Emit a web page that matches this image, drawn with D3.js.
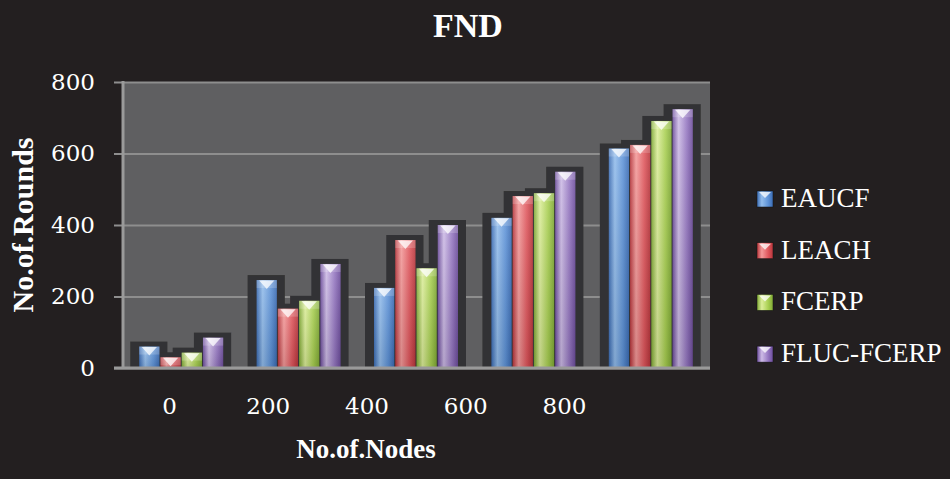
<!DOCTYPE html>
<html>
<head>
<meta charset="utf-8">
<script src="https://cdn.jsdelivr.net/npm/d3@7"></script>
<style>
  html, body { margin: 0; padding: 0; background: #231f20; }
  svg { display: block; }
</style>
</head>
<body>
<div id="chart"></div>
<script>
// data
var nodes = ["0", "200", "400", "600", "800"];
var series = ["EAUCF", "LEACH", "FCERP", "FLUC-FCERP"];
var eaucf = [60, 246, 224, 420, 614];
var leach = [30, 166, 358, 481, 624];
var fcerp = [43, 188, 279, 489, 691];
var flucFcerp = [85, 291, 400, 549, 724];
var yTicks = [0, 200, 400, 600, 800];

var values = [eaucf, leach, fcerp, flucFcerp];
// dark, light, mid colours for each series
var colors = [
    ["#3a6bb3", "#93bdec", "#5e93d8"],
    ["#b8353b", "#f49a9a", "#e0575d"],
    ["#7fa934", "#dcee9a", "#a9d052"],
    ["#6c4c9c", "#cdbbe6", "#9678c2"]
];

var W = 950, H = 479;
var pLeft = 123, pRight = 710, pTop = 82, pBottom = 368;

var svg = d3.select("#chart").append("svg")
    .attr("width", W)
    .attr("height", H);

svg.append("rect").attr("width", W).attr("height", H).attr("fill", "#231f20");

var defs = svg.append("defs");
colors.forEach(function (c, i) {
    var g = defs.append("linearGradient").attr("id", "grad" + i)
        .attr("x1", 0).attr("y1", 0).attr("x2", 1).attr("y2", 0);
    g.append("stop").attr("offset", "0%").attr("stop-color", c[0]);
    g.append("stop").attr("offset", "30%").attr("stop-color", c[1]);
    g.append("stop").attr("offset", "70%").attr("stop-color", c[2]);
    g.append("stop").attr("offset", "100%").attr("stop-color", c[0]);
});
var shade = defs.append("linearGradient").attr("id", "shade")
    .attr("x1", 0).attr("y1", 0).attr("x2", 0).attr("y2", 1);
shade.append("stop").attr("offset", "0%").attr("stop-color", "#fff").attr("stop-opacity", 0.12);
shade.append("stop").attr("offset", "100%").attr("stop-color", "#000").attr("stop-opacity", 0.12);
defs.append("filter").attr("id", "soft")
    .append("feGaussianBlur").attr("stdDeviation", 0.7);

// scales
var x = d3.scaleBand().domain(nodes).range([pLeft, pRight])
    .paddingInner(0.276).paddingOuter(0.138);
var x1 = d3.scaleBand().domain(series).range([0, x.bandwidth()]);
var y = d3.scaleLinear().domain([0, 800]).range([pBottom, pTop]);
// the category labels sit a bit off the groups in the original
var xLab = d3.scalePoint().domain(nodes).range([169, 564]);

// plot area
svg.append("rect")
    .attr("x", pLeft).attr("y", pTop)
    .attr("width", pRight - pLeft).attr("height", pBottom - pTop)
    .attr("fill", "#5f5f61");

// grid + y axis
var yAxis = svg.append("g")
    .attr("transform", "translate(114,0)")
    .call(d3.axisLeft(y).tickValues(yTicks).tickSize(-(pRight - 114)).tickPadding(19));
yAxis.select(".domain").remove();
yAxis.selectAll(".tick line").attr("stroke", "#8e8e8e").attr("stroke-width", 2);
yAxis.selectAll(".tick text")
    .attr("fill", "#fff")
    .style("font-family", "'DejaVu Serif', serif")
    .style("font-size", "23px");

svg.append("line")
    .attr("x1", pLeft).attr("x2", pLeft).attr("y1", pTop - 1).attr("y2", pBottom)
    .attr("stroke", "#9a9a9a").attr("stroke-width", 3);

var flat = [];
nodes.forEach(function (n, gi) {
    series.forEach(function (s, si) {
        flat.push({node: n, s: s, si: si, v: values[si][gi]});
    });
});

// dark shadows behind the bars
svg.append("g").attr("filter", "url(#soft)")
    .selectAll("rect").data(flat).enter().append("rect")
    .attr("x", function (d) { return x(d.node) + x1(d.s) - 9; })
    .attr("y", function (d) { return y(d.v) - 5; })
    .attr("width", x1.bandwidth() + 16)
    .attr("height", function (d) { return pBottom - y(d.v) + 5; })
    .attr("fill", "#333234");

// bars
var bars = svg.append("g").selectAll("g").data(flat).enter().append("g")
    .attr("transform", function (d) {
        return "translate(" + (x(d.node) + x1(d.s)) + "," + y(d.v) + ")";
    });
var bw = x1.bandwidth() - 1;
bars.append("rect")
    .attr("width", bw)
    .attr("height", function (d) { return pBottom - y(d.v); })
    .attr("fill", function (d) { return "url(#grad" + d.si + ")"; });
bars.append("rect")
    .attr("width", bw)
    .attr("height", function (d) { return pBottom - y(d.v); })
    .attr("fill", "url(#shade)");
bars.append("rect")
    .attr("width", bw)
    .attr("height", function (d) { return Math.min(8, pBottom - y(d.v)); })
    .attr("fill", "#fff").attr("opacity", 0.18);
bars.append("path")
    .attr("d", function (d) {
        var h = Math.min(9, pBottom - y(d.v));
        return "M2.5,0.5L" + (bw - 2.5) + ",0.5L" + (bw / 2) + "," + h + "Z";
    })
    .attr("fill", "#fff").attr("opacity", 0.75);

// x axis line
svg.append("line")
    .attr("x1", 114).attr("x2", pRight).attr("y1", pBottom).attr("y2", pBottom)
    .attr("stroke", "#9a9a9a").attr("stroke-width", 3);

var xAxis = svg.append("g")
    .attr("transform", "translate(0," + pBottom + ")")
    .call(d3.axisBottom(xLab).tickSize(0).tickPadding(30));
xAxis.select(".domain").remove();
xAxis.selectAll(".tick text")
    .attr("fill", "#fff")
    .style("font-family", "'DejaVu Serif', serif")
    .style("font-size", "23px");

// titles
svg.append("text")
    .attr("x", 468).attr("y", 37)
    .attr("text-anchor", "middle")
    .attr("fill", "#fff")
    .style("font-family", "'Liberation Serif', serif")
    .style("font-weight", "bold")
    .style("font-size", "34px")
    .text("FND");

svg.append("text")
    .attr("x", 366).attr("y", 458)
    .attr("text-anchor", "middle")
    .attr("fill", "#fff")
    .style("font-family", "'Liberation Serif', serif")
    .style("font-weight", "bold")
    .style("font-size", "27px")
    .text("No.of.Nodes");

svg.append("text")
    .attr("transform", "translate(33,225) rotate(-90)")
    .attr("text-anchor", "middle")
    .attr("fill", "#fff")
    .style("font-family", "'Liberation Serif', serif")
    .style("font-weight", "bold")
    .style("font-size", "30px")
    .text("No.of.Rounds");

// legend
var legend = svg.append("g").selectAll("g").data(series).enter().append("g")
    .attr("transform", function (d, i) { return "translate(757," + (191 + i * 51.7) + ")"; });
legend.append("rect")
    .attr("width", 16).attr("height", 16)
    .attr("fill", function (d, i) { return "url(#grad" + i + ")"; })
    .attr("stroke", "#111").attr("stroke-width", 0.5);
legend.append("path")
    .attr("d", "M2,1L14,1L8,7Z")
    .attr("fill", "#fff").attr("opacity", 0.75);
legend.append("text")
    .attr("x", 24).attr("y", 16)
    .attr("fill", "#fff")
    .style("font-family", "'Liberation Serif', serif")
    .style("font-size", "27px")
    .text(function (d) { return d; });
</script>
</body>
</html>
